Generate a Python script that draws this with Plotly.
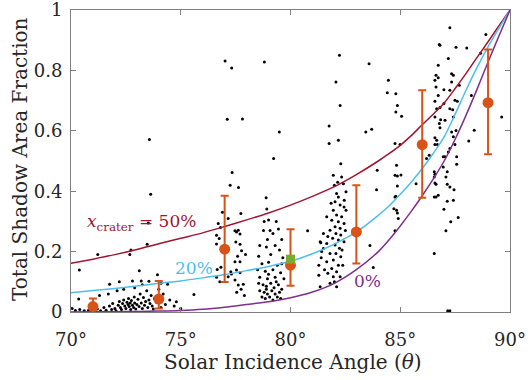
import plotly.graph_objects as go

# Model curves: total shadow fraction vs incidence angle for three crater fractions
model_angle = [70, 71, 72, 73, 74, 75, 76, 77, 78, 79, 80, 81, 82, 83,
               84, 84.5, 85, 85.5, 86, 86.5, 87, 87.5, 88, 88.5, 89, 89.5, 90]
frac_crater50 = [0.161, 0.175, 0.190, 0.207, 0.226, 0.244, 0.262, 0.283, 0.305, 0.328,
                 0.354, 0.383, 0.415, 0.455, 0.500, 0.525, 0.552, 0.584, 0.620, 0.655,
                 0.692, 0.740, 0.790, 0.843, 0.895, 0.948, 1.0]
frac_crater20 = [0.064, 0.071, 0.078, 0.086, 0.095, 0.103, 0.113, 0.124, 0.137, 0.151,
                 0.168, 0.193, 0.225, 0.265, 0.320, 0.352, 0.390, 0.430, 0.475, 0.525,
                 0.580, 0.655, 0.735, 0.810, 0.878, 0.940, 1.0]
frac_crater0 = [0.0, 0.0005, 0.001, 0.002, 0.003, 0.005, 0.009, 0.016, 0.025, 0.034,
                0.047, 0.066, 0.095, 0.140, 0.200, 0.240, 0.285, 0.333, 0.385, 0.440,
                0.500, 0.572, 0.652, 0.738, 0.828, 0.915, 1.0]

# Binned means with lower / upper bounds
bin_angle = [71, 74, 77, 80, 83, 86, 89]
bin_mean = [0.018, 0.043, 0.208, 0.155, 0.265, 0.554, 0.693]
bin_low = [-0.009, 0.012, 0.099, 0.087, 0.161, 0.378, 0.522]
bin_high = [0.045, 0.1025, 0.385, 0.274, 0.420, 0.734, 0.869]

# Reference measurement
ref_angle = [80.0]
ref_frac = [0.175]

# Individual image measurements (angle, shadow fraction)
obs_70_76 = [
    (70.05, 0.012), (70.2, 0.005), (70.35, 0.043), (70.4, 0.008), (70.6, 0.004), (70.8, 0.006),
    (71.0, 0.003), (71.2, 0.010), (71.35, 0.004), (71.5, 0.015), (71.6, 0.006), (71.75, 0.020),
    (71.85, 0.008), (71.9, 0.028), (72.0, 0.012), (72.05, 0.004), (72.15, 0.022), (72.2, 0.035),
    (72.25, 0.015), (72.3, 0.008), (72.35, 0.028), (72.4, 0.040), (72.45, 0.020), (72.5, 0.012),
    (72.55, 0.032), (72.6, 0.025), (72.62, 0.045), (72.65, 0.018), (72.7, 0.030), (72.72, 0.008),
    (72.75, 0.038), (72.8, 0.022), (72.85, 0.015), (72.88, 0.050), (72.9, 0.030), (72.95, 0.010),
    (73.0, 0.025), (73.05, 0.042), (73.1, 0.018), (73.15, 0.060), (73.2, 0.030), (73.25, 0.012),
    (73.3, 0.048), (73.35, 0.022), (73.4, 0.035), (73.45, 0.070), (73.5, 0.015), (73.55, 0.040),
    (73.6, 0.028), (73.65, 0.055), (73.7, 0.020), (73.75, 0.010), (73.8, 0.045), (73.9, 0.032),
    (74.0, 0.075), (74.1, 0.015), (74.2, 0.060), (74.3, 0.025), (74.5, 0.040), (74.7, 0.020),
    (74.8, 0.034), (75.0, 0.012), (75.6, 0.058),
    (70.38, 0.139), (71.22, 0.190), (72.68, 0.190), (72.73, 0.205), (73.47, 0.224), (73.52, 0.295),
    (73.11, 0.137), (73.94, 0.123), (71.76, 0.092), (72.2, 0.100), (72.8, 0.103), (73.2, 0.103),
    (73.55, 0.102), (74.4, 0.092), (72.4, 0.075), (72.9, 0.080), (73.25, 0.090), (74.1, 0.095),
    (71.3, 0.055), (71.7, 0.060), (72.1, 0.070), (73.63, 0.390), (73.57, 0.571),
]
obs_76_78 = [
    (77.02, 0.831), (77.32, 0.808), (77.12, 0.638), (77.81, 0.639), (77.34, 0.462), (77.25, 0.420),
    (77.63, 0.412), (77.74, 0.326), (76.71, 0.293), (76.81, 0.280), (77.47, 0.269), (77.62, 0.271),
    (77.7, 0.258), (77.16, 0.310), (77.51, 0.232), (77.7, 0.224), (77.77, 0.203), (77.59, 0.185),
    (77.47, 0.166), (77.7, 0.166), (76.63, 0.225), (76.75, 0.243), (76.83, 0.148), (76.66, 0.141),
    (77.28, 0.133), (77.54, 0.139), (77.7, 0.130), (77.16, 0.117), (77.31, 0.126), (77.47, 0.106),
    (77.62, 0.089), (76.63, 0.115), (76.78, 0.100), (77.85, 0.092), (77.75, 0.075), (77.55, 0.065),
    (77.9, 0.055), (76.9, 0.330), (77.95, 0.190), (76.63, 0.254), (77.54, 0.265),
]
obs_78_80 = [
    (78.89, 0.378), (78.92, 0.341), (78.8, 0.300), (79.0, 0.305), (78.77, 0.270), (79.07, 0.270),
    (79.35, 0.300), (79.45, 0.275), (79.2, 0.260), (78.95, 0.240), (79.6, 0.240), (78.6, 0.220),
    (78.9, 0.215), (79.3, 0.220), (79.5, 0.205), (78.55, 0.185), (79.1, 0.190), (79.65, 0.180),
    (78.7, 0.160), (79.0, 0.165), (79.4, 0.155), (78.5, 0.140), (78.85, 0.135), (79.2, 0.140),
    (79.55, 0.130), (78.6, 0.115), (78.95, 0.110), (79.3, 0.115), (79.7, 0.110), (78.55, 0.095),
    (78.75, 0.090), (78.9, 0.085), (79.1, 0.095), (79.25, 0.080), (79.45, 0.090), (79.6, 0.075),
    (78.6, 0.070), (78.8, 0.065), (78.95, 0.060), (79.15, 0.070), (79.3, 0.060), (79.5, 0.065),
    (78.7, 0.050), (78.85, 0.045), (79.05, 0.050), (79.2, 0.040), (79.4, 0.050), (79.55, 0.045),
    (78.9, 0.075), (79.35, 0.100), (79.0, 0.125), (79.6, 0.160), (79.23, 0.508), (79.49, 0.596),
    (78.81, 0.828),
]
obs_80_83 = [
    (82.23, 0.850), (82.07, 0.762), (82.26, 0.684), (81.76, 0.616), (81.76, 0.558), (82.18, 0.569),
    (82.29, 0.491), (81.95, 0.453), (82.33, 0.447), (80.78, 0.269), (82.0, 0.420), (82.41, 0.425),
    (82.1, 0.392), (82.53, 0.398), (82.18, 0.381), (82.03, 0.365), (82.26, 0.354), (82.44, 0.348),
    (82.53, 0.337), (81.95, 0.337), (82.1, 0.321), (82.33, 0.315), (81.65, 0.315), (81.88, 0.304),
    (82.18, 0.299), (82.44, 0.293), (82.03, 0.282), (82.26, 0.277), (81.8, 0.271), (81.5, 0.260),
    (82.07, 0.260), (82.29, 0.255), (81.92, 0.244), (82.18, 0.238), (82.44, 0.233), (81.35, 0.233),
    (81.65, 0.227), (82.03, 0.222), (82.23, 0.211), (81.42, 0.200), (81.8, 0.194), (82.07, 0.194),
    (82.29, 0.183), (81.95, 0.172), (81.65, 0.166), (81.29, 0.155), (82.18, 0.155), (82.38, 0.155),
    (81.88, 0.144), (82.1, 0.133), (81.7, 0.128), (81.95, 0.117), (82.26, 0.117), (81.29, 0.122),
    (81.8, 0.095), (82.1, 0.084), (81.35, 0.084), (81.5, 0.210), (81.7, 0.250), (82.5, 0.270),
    (82.35, 0.205), (81.55, 0.140), (82.0, 0.100), (81.4, 0.180), (82.45, 0.370), (81.85, 0.360),
    (82.15, 0.430), (81.38, 0.229), (83.43, 0.596), (83.58, 0.822),
]
obs_83_86 = [
    (83.7, 0.605), (83.95, 0.469), (83.92, 0.405), (84.46, 0.767), (84.41, 0.726), (84.8, 0.723),
    (84.87, 0.684), (84.8, 0.662), (85.06, 0.648), (84.76, 0.558), (84.99, 0.555), (84.83, 0.486),
    (84.76, 0.453), (84.87, 0.450), (85.03, 0.454), (84.87, 0.417), (84.8, 0.383), (84.76, 0.381),
    (84.71, 0.342), (84.83, 0.337), (84.87, 0.328), (84.91, 0.310), (84.76, 0.269), (85.72, 0.425),
    (83.77, 0.147), (83.62, 0.220),
]
obs_86_90 = [
    (86.78, 0.886), (86.81, 0.883), (86.73, 0.817), (87.19, 0.839), (86.63, 0.784), (86.73, 0.776),
    (87.34, 0.789), (87.42, 0.784), (86.58, 0.767), (86.63, 0.745), (87.34, 0.762), (86.99, 0.736),
    (87.26, 0.734), (87.69, 0.751), (86.73, 0.717), (86.58, 0.698), (86.99, 0.690), (87.49, 0.701),
    (87.6, 0.698), (86.66, 0.673), (86.81, 0.677), (87.26, 0.673), (87.39, 0.670), (86.58, 0.646),
    (86.84, 0.637), (87.04, 0.635), (87.42, 0.646), (86.78, 0.624), (86.81, 0.610), (87.54, 0.601),
    (87.34, 0.596), (86.58, 0.577), (86.66, 0.569), (87.42, 0.580), (86.58, 0.555), (86.69, 0.555),
    (87.26, 0.541), (87.49, 0.555), (87.19, 0.530), (87.04, 0.514), (86.96, 0.514), (87.57, 0.514),
    (86.32, 0.519), (86.2, 0.508), (86.55, 0.464), (86.58, 0.456), (86.55, 0.447), (87.14, 0.464),
    (86.96, 0.480), (87.57, 0.489), (87.08, 0.447), (86.58, 0.427), (86.63, 0.423), (87.14, 0.423),
    (87.26, 0.414), (87.45, 0.405), (86.55, 0.381), (86.63, 0.381), (86.73, 0.387), (87.14, 0.367),
    (86.99, 0.340), (87.42, 0.370), (87.3, 0.299), (87.64, 0.313), (87.08, 0.269), (86.55, 0.194),
    (87.16, 0.004), (87.26, 0.004), (87.26, 0.941), (87.54, 0.877), (88.03, 0.874), (88.9, 0.919),
    (88.66, 0.857), (88.24, 0.717), (88.12, 0.566), (88.37, 0.602), (89.62, 0.646),
]

DARK = "#262626"
FONT = "DejaVu Serif, Liberation Serif, Noto Serif, serif"
C50, C20, C0 = "#A2142F", "#4DBEEE", "#7E2F8E"
ORANGE, GREEN = "#D95319", "#77AC30"

fig = go.Figure()

obs = obs_70_76 + obs_76_78 + obs_78_80 + obs_80_83 + obs_83_86 + obs_86_90
fig.add_trace(go.Scatter(
    x=[p[0] for p in obs], y=[p[1] for p in obs], mode="markers",
    marker=dict(color="black", size=3, line=dict(width=0)), showlegend=False))

for vals, col in [(frac_crater50, C50), (frac_crater20, C20), (frac_crater0, C0)]:
    fig.add_trace(go.Scatter(
        x=model_angle, y=vals, mode="lines",
        line=dict(color=col, width=1.5, shape="spline", smoothing=0.8), showlegend=False))

fig.add_trace(go.Scatter(
    x=bin_angle, y=bin_mean, mode="markers",
    marker=dict(color=ORANGE, size=11, line=dict(width=0)),
    error_y=dict(type="data", symmetric=False,
                 array=[h - m for h, m in zip(bin_high, bin_mean)],
                 arrayminus=[m - l for m, l in zip(bin_mean, bin_low)],
                 color=ORANGE, thickness=2, width=4),
    showlegend=False))

fig.add_trace(go.Scatter(
    x=ref_angle, y=ref_frac, mode="markers",
    marker=dict(color=GREEN, size=9, symbol="square", line=dict(width=0)), showlegend=False))

ann_font = dict(family=FONT, size=17)
fig.add_annotation(x=73.23, y=0.297, text="<i>x</i><sub>crater</sub> = 50%", showarrow=False,
                   font=dict(color=C50, **ann_font))
fig.add_annotation(x=75.6, y=0.145, text="20%", showarrow=False, font=dict(color=C20, **ann_font))
fig.add_annotation(x=83.53, y=0.102, text="0%", showarrow=False, font=dict(color=C0, **ann_font))

# Axis titles placed as paper-anchored labels
title_font = dict(family=FONT, size=20, color=DARK)
fig.add_annotation(xref="paper", yref="paper", x=0.505, y=-0.166, xanchor="center",
                   yanchor="middle", text="Solar Incidence Angle (<i>θ</i>)",
                   showarrow=False, font=title_font)
fig.add_annotation(xref="paper", yref="paper", x=-0.116, y=0.507, xanchor="center",
                   yanchor="middle", textangle=-90, text="Total Shadow Area Fraction",
                   showarrow=False, font=title_font)

axis_common = dict(showline=True, linecolor="#7f7f7f", linewidth=1, mirror="ticks",
                   ticks="inside", ticklen=5, tickcolor="#7f7f7f", showgrid=False,
                   zeroline=False, ticklabeloverflow="allow", automargin=False,
                   tickfont=dict(family=FONT, size=18, color=DARK))

fig.update_xaxes(range=[70, 90], tickvals=[70, 75, 80, 85, 90],
                 ticktext=["70°", "75°", "80°", "85°", "90°"], ticklabelstandoff=11,
                 **axis_common)
fig.update_yaxes(range=[0, 1], tickvals=[0, 0.2, 0.4, 0.6, 0.8, 1],
                 ticktext=["0", "0.2", "0.4", "0.6", "0.8", "1"], ticklabelstandoff=4,
                 **axis_common)

fig.update_layout(width=530, height=380, margin=dict(l=71, r=20, t=10, b=68),
                  paper_bgcolor="white", plot_bgcolor="white")

fig.write_html("out.html")
